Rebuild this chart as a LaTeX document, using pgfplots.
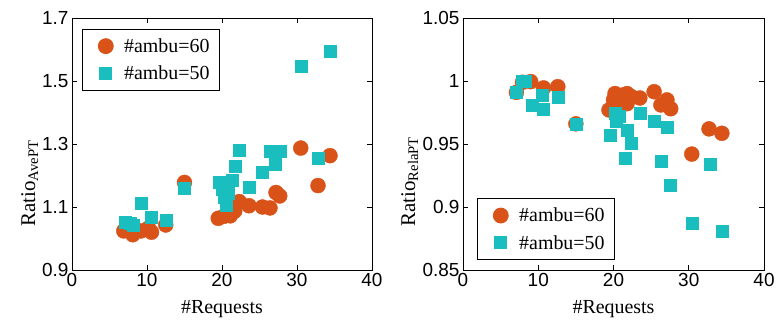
\documentclass[border=0pt]{standalone}
\usepackage{fontspec}
\setmainfont{Liberation Serif}
\setsansfont{Liberation Sans}
\usepackage{pgfplots}
\pgfplotsset{compat=1.18}
\definecolor{morange}{RGB}{217,83,25}
\definecolor{mcyan}{RGB}{26,190,190}
\pgfplotsset{
  myax/.style={
    anchor=south west, scale only axis, height=252bp,
    xmin=0, xmax=40, xtick={0,10,20,30,40},
    axis line style={black, line width=0.8pt},
    tick style={black, line width=0.6pt},
    major tick length=5bp,
    tick align=inside,
    /pgf/number format/assume math mode=true,
    tick label style={font=\sffamily\fontsize{19}{22}\selectfont},
    xlabel={\#Requests},
    xlabel style={font=\fontsize{20}{24}\selectfont, at={(axis description cs:0.5,-0.171)}, anchor=base},
    ylabel style={font=\fontsize{21}{24}\selectfont, rotate=0, anchor=base west},
    legend style={font=\fontsize{20}{24}\selectfont, draw=black, line width=0.8pt,
      inner xsep=10bp, inner ysep=9bp, row sep=12bp,
      nodes={inner xsep=0bp, inner ysep=0bp}},
    legend cell align=left,
    legend image code/.code={\path (-13bp,0bp) (18bp,0bp); \draw[##1] plot coordinates {(0bp,0bp)};},
  },
  ora/.style={only marks, mark=*, mark size=7.5bp, mark options={fill=morange, draw=morange}},
  cya/.style={only marks, mark=square*, mark size=6bp, mark options={fill=mcyan, draw=mcyan}},
}
\begin{document}
\begin{tikzpicture}
\useasboundingbox (0,0) rectangle (776bp,320bp);
\begin{axis}[myax, at={(72bp,50bp)}, width=300bp,
  ymin=0.9, ymax=1.7, ytick={0.9,1.1,1.3,1.5,1.7},
  yticklabel style={/pgf/number format/.cd, fixed, precision=1},
  ylabel={Ratio\textsubscript{AvePT}},
  ylabel style={at={(axis description cs:-0.123,0.159)}},
  legend style={at={(axis description cs:0.0333,0.956)}, anchor=north west},
]
\addplot[ora] coordinates {
(6.9,1.024) (8.1,1.012) (9.2,1.024) (10.2,1.033) (10.6,1.02) (12.5,1.043)
(15.0,1.178) (19.5,1.064) (20.2,1.07) (20.7,1.078) (21.1,1.072) (21.7,1.087)
(22.3,1.117) (23.6,1.104) (25.4,1.10) (26.4,1.097) (27.2,1.146) (27.7,1.135)
(30.5,1.287) (32.8,1.168) (34.4,1.263)
};
\addlegendentry{\#ambu=60}
\addplot[cya] coordinates {
(7.1,1.053) (7.8,1.05) (8.2,1.042) (9.2,1.111) (10.5,1.067) (12.5,1.058)
(15.0,1.161) (19.6,1.178) (20.0,1.158) (20.3,1.132) (20.6,1.105) (20.8,1.145)
(21.3,1.184) (21.7,1.228) (22.3,1.279) (23.6,1.163) (25.4,1.212) (26.4,1.276)
(27.1,1.236) (27.7,1.278) (30.5,1.546) (32.8,1.256) (34.4,1.595)
};
\addlegendentry{\#ambu=50}
\end{axis}
\begin{axis}[myax, at={(463bp,50bp)}, width=301bp,
  ymin=0.85, ymax=1.05, ytick={0.85,0.9,0.95,1,1.05},
  yticklabel style={/pgf/number format/.cd, fixed, precision=2},
  ylabel={Ratio\textsubscript{RelaPT}},
  ylabel style={at={(axis description cs:-0.159,0.159)}},
  legend style={at={(axis description cs:0.0465,0.04)}, anchor=south west},
]
\addplot[ora] coordinates {
(7.1,0.991) (7.9,0.999) (9.0,0.9995) (10.7,0.9945) (12.6,0.9955) (15.0,0.966)
(19.4,0.977) (20.0,0.985) (20.2,0.99) (20.7,0.98) (21.3,0.989) (21.8,0.982)
(21.8,0.99) (22.4,0.9875) (23.5,0.9865) (25.4,0.9915) (26.3,0.981) (27.1,0.985)
(27.6,0.978) (30.4,0.942) (32.7,0.962) (34.4,0.9585)
};
\addlegendentry{\#ambu=60}
\addplot[cya] coordinates {
(7.1,0.9915) (7.8,0.9995) (8.2,1.0) (9.2,0.981) (10.5,0.989) (10.7,0.9775)
(12.6,0.987) (15.0,0.966) (19.5,0.957) (20.2,0.9745) (20.4,0.968) (20.8,0.972)
(21.5,0.9385) (21.8,0.961) (22.3,0.9505) (23.6,0.9745) (25.4,0.968) (26.3,0.936)
(27.2,0.963) (27.6,0.917) (30.5,0.8875) (32.8,0.934) (34.4,0.8805)
};
\addlegendentry{\#ambu=50}
\end{axis}
\end{tikzpicture}
\end{document}
